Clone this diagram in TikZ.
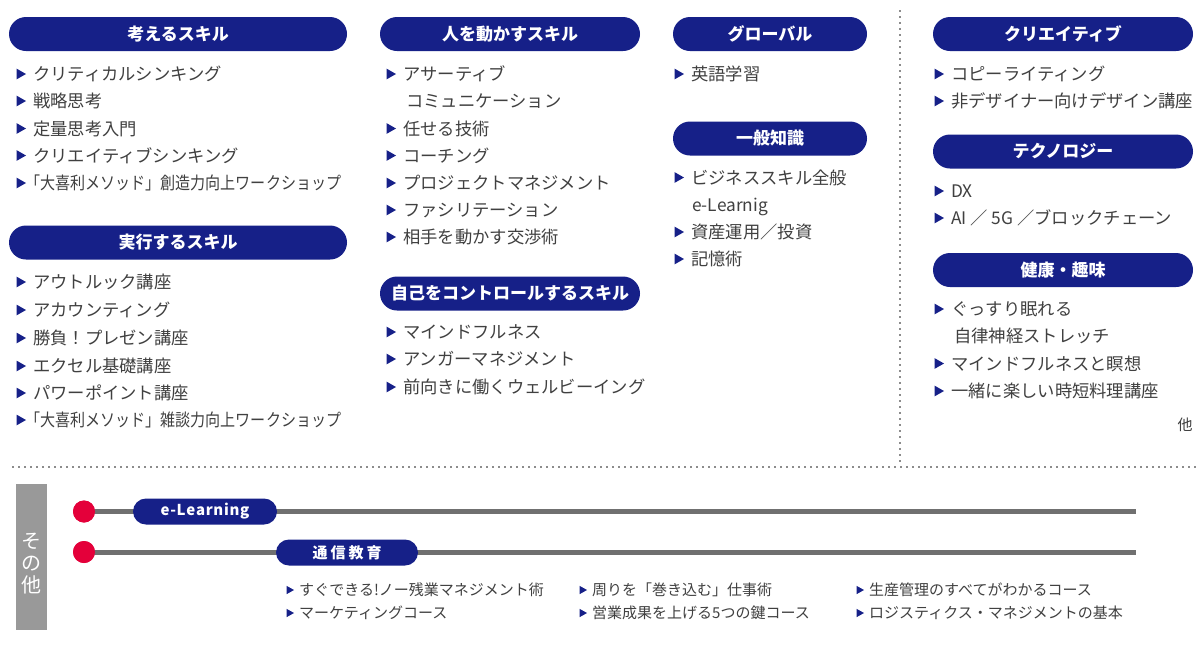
\documentclass[tikz,border=0pt]{standalone}
\usepackage{fontspec}
\setmainfont{Noto Sans CJK JP}
\usetikzlibrary{calc}
\definecolor{navy}{RGB}{22,32,136}
\definecolor{txt}{RGB}{64,64,64}
\definecolor{dotred}{RGB}{228,0,58}
\definecolor{linegray}{RGB}{112,112,112}
\definecolor{boxgray}{RGB}{153,153,153}
\definecolor{dotgray}{RGB}{140,140,140}
\tikzset{
  head/.style={fill=navy, text=white, rounded corners=17pt, minimum height=34pt,
    inner sep=0pt, font=\fontsize{17}{19}\selectfont\bfseries},
  pill/.style={fill=navy, text=white, rounded corners=13pt, minimum height=26pt,
    inner sep=0pt, font=\fontsize{15}{17}\selectfont\bfseries},
  itm/.style={anchor=base west, inner sep=0pt, text=txt,
    font=\fontsize{17.3}{20}\selectfont},
  sitm/.style={anchor=base west, inner sep=0pt, text=txt,
    font=\fontsize{15}{18}\selectfont},
  dotline/.style={dotgray, line width=1.6pt, dash pattern=on 1.6pt off 4.4pt},
  tl/.style={linegray, line width=5pt},
}
\newcommand{\bul}[2]{\fill[navy] (#1-16.5,#2-5.4) -- (#1-7,#2) -- (#1-16.5,#2+5.4) -- cycle;}
\newcommand{\sbul}[2]{\fill[navy] (#1-12.5,#2-4.2) -- (#1-5,#2) -- (#1-12.5,#2+4.2) -- cycle;}
\newcommand{\itA}[4]{\bul{#1}{#2}\node[itm] (#3) at (#1,#2+6.7) {#4};}
\newcommand{\itB}[4]{\sbul{#1}{#2}\node[sitm] (#3) at (#1,#2+5.8) {#4};}
\begin{document}
\begin{tikzpicture}[x=1pt,y=-1pt]
\useasboundingbox (0,0) rectangle (1200,649);
\fill[white] (0,0) rectangle (1200,649);

% dotted separators
\coordinate (vtop) at (900,10);
\coordinate (vbot) at (900,463);
\coordinate (hl) at (12,467);
\coordinate (hr) at (1200,467);
\draw[dotline] (vtop) -- (vbot);
\draw[dotline] (hl) -- (hr);

% column 1
\node[head, minimum width=338pt] (h1) at (178,34) {考えるスキル};
\itA{33}{74}{a1}{クリティカルシンキング}
\itA{33}{101}{a2}{戦略思考}
\itA{33}{128.5}{a3}{定量思考入門}
\itA{33}{155.5}{a4}{クリエイティブシンキング}
\bul{33}{183}\node[itm] (a5) at (25,189.7) {\scalebox{0.87}[1]{「大喜利メソッド」創造力向上ワークショップ}};

\node[head, minimum width=338pt] (h2) at (178,242.5) {実行するスキル};
\itA{33}{282}{b1}{アウトルック講座}
\itA{33}{310}{b2}{アカウンティング}
\itA{33}{338}{b3}{勝負！プレゼン講座}
\itA{33}{366}{b4}{エクセル基礎講座}
\itA{33}{393}{b5}{パワーポイント講座}
\bul{33}{420}\node[itm] (b6) at (25,426.7) {\scalebox{0.87}[1]{「大喜利メソッド」雑談力向上ワークショップ}};

% column 2
\node[head, minimum width=260pt] (h3) at (510,34) {人を動かすスキル};
\itA{403}{74}{c1}{アサーティブ}
\node[itm] (c1b) at (406,107.7) {コミュニケーション};
\itA{403}{128.5}{c2}{任せる技術}
\itA{403}{155.5}{c3}{コーチング}
\itA{403}{183}{c4}{プロジェクトマネジメント}
\itA{403}{210}{c5}{ファシリテーション}
\itA{403}{237}{c6}{相手を動かす交渉術}

\node[head, minimum width=260pt] (h4) at (510,293.5) {自己をコントロールするスキル};
\itA{403}{332}{d1}{マインドフルネス}
\itA{403}{359}{d2}{アンガーマネジメント}
\itA{403}{387}{d3}{前向きに働くウェルビーイング}

% column 3
\node[head, minimum width=194pt] (h5) at (770,34) {グローバル};
\itA{691}{74}{e1}{英語学習}

\node[head, minimum width=194pt] (h6) at (770,138.5) {一般知識};
\itA{691}{177.5}{f1}{ビジネススキル全般}
\node[itm] (f1b) at (692,211.7) {e-Learnig};
\itA{691}{232}{f2}{資産運用／投資}
\itA{691}{259}{f3}{記憶術}

% column 4
\node[head, minimum width=260pt] (h7) at (1063,34) {クリエイティブ};
\itA{951}{74}{g1}{コピーライティング}
\itA{951}{101}{g2}{非デザイナー向けデザイン講座}

\node[head, minimum width=260pt] (h8) at (1063,151.5) {テクノロジー};
\itA{951}{191}{k1}{DX}
\itA{951}{218}{k2}{AI ／ 5G ／ブロックチェーン}

\node[head, minimum width=260pt] (h9) at (1063,270) {健康・趣味};
\itA{951}{309}{m1}{ぐっすり眠れる}
\node[itm] (m1b) at (954,342.7) {自律神経ストレッチ};
\itA{951}{363.5}{m2}{マインドフルネスと瞑想}
\itA{951}{391}{m3}{一緒に楽しい時短料理講座}
\node[inner sep=0pt, text=txt, font=\fontsize{15}{18}\selectfont] (other) at (1185,425) {他};

% bottom section
\node[fill=boxgray, minimum width=31pt, minimum height=146pt, inner sep=0pt] (sbox) at (31,557) {};
\node[text=white, align=center, inner sep=0pt, font=\fontsize{20}{22}\selectfont] (slabel) at (31,564) {そ\\の\\他};

\node[circle, fill=dotred, minimum size=22pt, inner sep=0pt] (dot1) at (84,511.5) {};
\node[circle, fill=dotred, minimum size=22pt, inner sep=0pt] (dot2) at (84,552) {};
\coordinate (end1) at (1136,511.5);
\coordinate (end2) at (1136,552);
\draw[tl] (dot1.center) -- (end1);
\draw[tl] (dot2.center) -- (end2);
\node[circle, fill=dotred, minimum size=22pt, inner sep=0pt] at (dot1) {};
\node[circle, fill=dotred, minimum size=22pt, inner sep=0pt] at (dot2) {};

\node[pill, minimum width=144pt] (p1) at (205,511.5) {e\kern0.7pt-\kern0.7pt L\kern0.7pt e\kern0.7pt a\kern0.7pt r\kern0.7pt n\kern0.7pt i\kern0.7pt n\kern0.7pt g};
\node[pill, minimum width=142pt] (p2) at (347,552.5) {通\kern3pt 信\kern3pt 教\kern3pt 育};

\itB{299}{590}{q1}{すぐできる!ノー残業マネジメント術}
\itB{299}{613}{q2}{マーケティングコース}
\itB{592}{590}{q3}{周りを「巻き込む」仕事術}
\itB{592}{613}{q4}{営業成果を上げる5つの鍵コース}
\itB{869}{590}{q5}{生産管理のすべてがわかるコース}
\itB{869}{613}{q6}{ロジスティクス・マネジメントの基本}
\end{tikzpicture}
\end{document}
